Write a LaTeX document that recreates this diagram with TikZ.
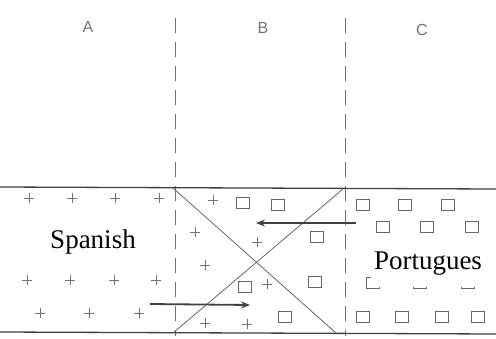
\documentclass[tikz,border=0pt]{standalone}
\usepackage{fontspec}
\setmainfont{Liberation Serif}
\setsansfont{Liberation Sans}
\usetikzlibrary{arrows.meta}
\tikzset{
  border/.style={draw=black!75, line width=1.3pt},
  divider/.style={draw=black!55, line width=0.8pt, dash pattern=on 15pt off 9pt},
  cross/.style={draw=black!60, line width=0.8pt},
  flow/.style={draw=black!75, line width=1.8pt, -{Stealth[length=9pt,width=7pt]}},
  zone/.style={font=\sffamily\fontsize{16}{17}\selectfont, text=black!55},
  lang/.style={font=\fontsize{27}{29}\selectfont, fill=white, inner xsep=3pt, inner ysep=3pt},
  sq/.style={draw=black!60, line width=0.9pt, minimum width=13pt, minimum height=11pt, inner sep=0pt},
  plussign/.pic={\draw[black!55, line width=0.8pt] (-5,0) -- (5,0) (0,-5) -- (0,5);}
}
\begin{document}
\begin{tikzpicture}[x=1pt,y=-1pt]
\useasboundingbox (0,0) rectangle (496,338);
% zone labels
\node[zone] (la) at (88,27) {A};
\node[zone] (lb) at (263,28) {B};
\node[zone] (lc) at (422,30) {C};
% dividers
\coordinate (d1t) at (175,18);
\coordinate (d1b) at (175,336);
\coordinate (d2t) at (345,18);
\coordinate (d2b) at (345,336);
\draw[divider] (d1t) -- (d1b);
\draw[divider] (d2t) -- (d2b);
% borders
\coordinate (tl) at (0,187);
\coordinate (tr) at (496,189);
\coordinate (bl) at (0,332);
\coordinate (br) at (496,334);
\draw[border] (tl) -- (tr);
\draw[border] (bl) -- (br);
% cross
\coordinate (x1) at (173,188);
\coordinate (x2) at (336,333);
\coordinate (x3) at (343,189);
\coordinate (x4) at (173,333);
\draw[cross] (x1) -- (x2);
\draw[cross] (x3) -- (x4);
% pluses in A
\foreach \x/\y in {29/198,72/198,115/198,159/198,27/280,70/280,114/280,156/280,40/313,89/313,139/313}
  \pic at (\x,\y) {plussign};
% pluses in B
\foreach \x/\y in {213/200,195/232,257/242,205/265,267/284,205/323,247/324}
  \pic at (\x,\y) {plussign};
% squares in B
\foreach \x/\y [count=\i] in {243/203,278/205,317/237,245/287,315/282,285/317}
  \node[sq] (sb\i) at (\x,\y) {};
% squares in C
\foreach \x/\y [count=\i] in {363/205,405/205,448/205,383/227,427/227,472/227,373/283,420/283,468/283,363/317,402/317,442/317,478/317}
  \node[sq] (sc\i) at (\x,\y) {};
% language labels
\node[lang] (spanish) at (93,242) {Spanish};
\node[lang, inner ysep=11pt] (portugues) at (428,264) {Portugues};
% arrows
\coordinate (a1s) at (356,223);
\coordinate (a1e) at (256,223);
\coordinate (a2s) at (150,304);
\coordinate (a2e) at (250,305);
\draw[flow] (a1s) -- (a1e);
\draw[flow] (a2s) -- (a2e);
\end{tikzpicture}
\end{document}
